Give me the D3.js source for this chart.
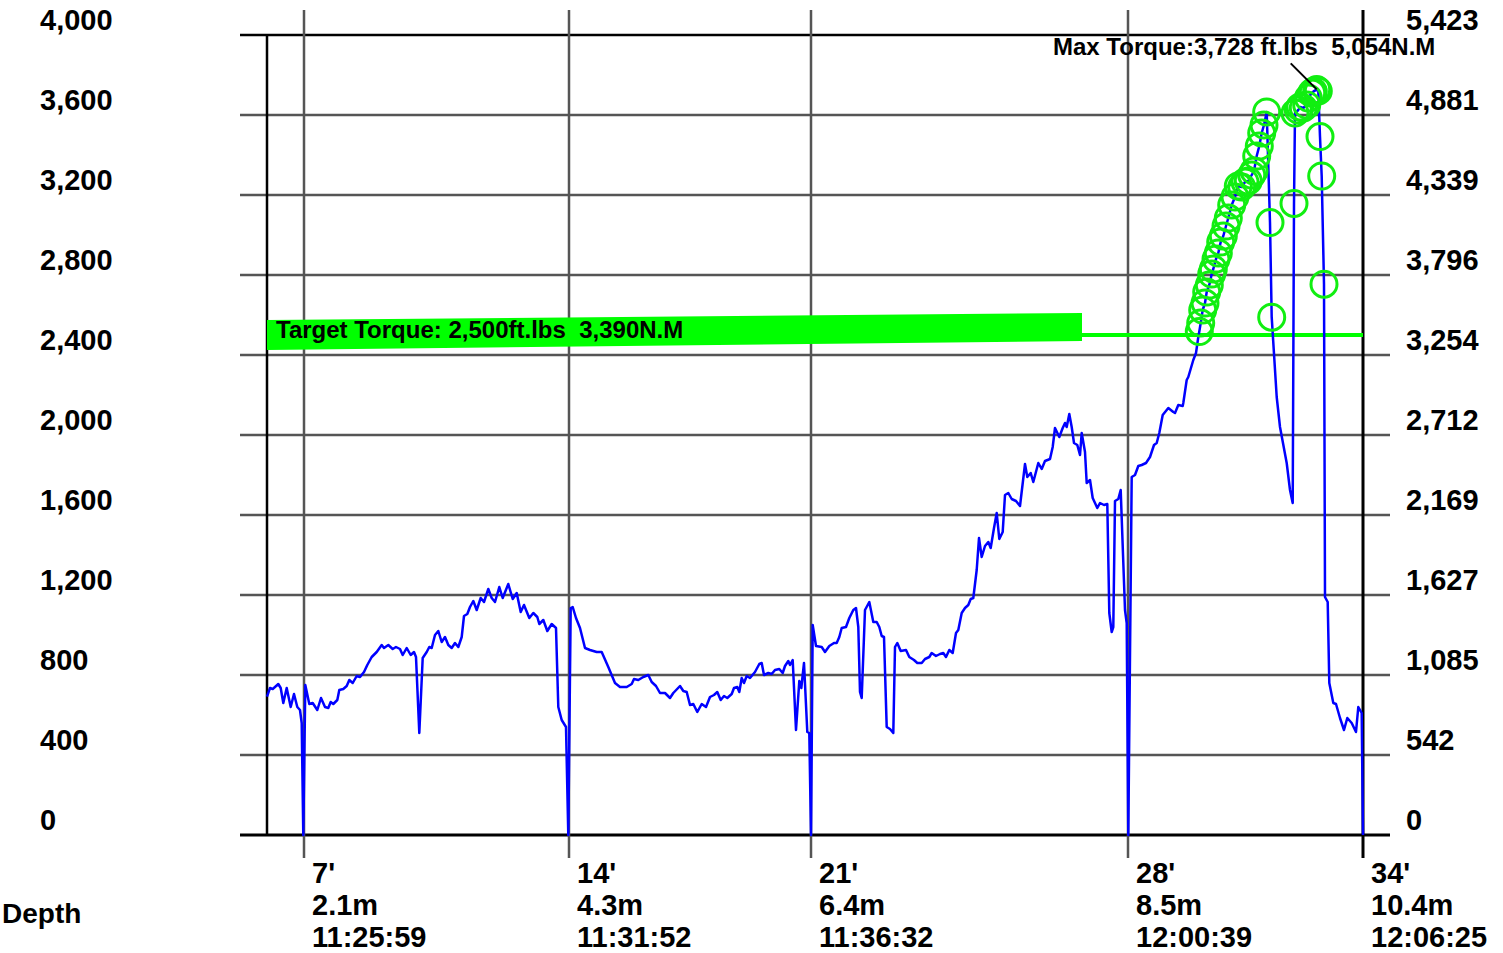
<!DOCTYPE html>
<html>
<head>
<meta charset="utf-8">
<script src="https://cdn.jsdelivr.net/npm/d3@7"></script>
<style>
  body { margin: 0; background: #fff; }
  .chart text { font-family: "Liberation Sans", Arial, sans-serif; font-weight: bold; fill: #000; white-space: pre; }
</style>
</head>
<body>
<div class="chart"></div>
<script>
// Torque vs depth log, one reading per sample
// [sample position, torque in ft.lbs]
var torqueReadings = [
  [0, 692], [3, 735], [5.7, 730], [8, 740], [11.3, 755], [13.7, 735], [16.3, 660], [19.7, 735],
  [23.7, 640], [27, 705], [30.3, 640], [33, 625], [34.7, 560], [36.3, 0], [38.3, 750], [42.3, 655],
  [45.7, 660], [50.3, 625], [54, 685], [58, 640], [61.3, 635], [63.7, 665], [66.3, 655], [70.3, 675],
  [72.3, 725], [76.3, 730], [79.7, 745], [82.3, 775], [85.7, 760], [89.7, 795], [93, 790], [97, 815],
  [100.3, 850], [104.7, 890], [109.7, 915], [114.7, 950], [117, 935], [121.3, 950], [125.7, 930],
  [129, 940], [133, 930], [135.7, 900], [139.7, 935], [143.7, 900], [147, 915], [149, 890],
  [152.3, 510], [155.7, 885], [159.7, 915], [162.3, 940], [164.7, 935], [168, 1000], [171.3, 1020],
  [174.7, 965], [178, 990], [181.3, 950], [184.7, 935], [188, 960], [191.3, 940], [194.7, 990],
  [197, 1095], [200.3, 1105], [203, 1140], [206.3, 1170], [209.7, 1125], [213.7, 1185], [217, 1165],
  [221.3, 1230], [224.7, 1185], [228, 1165], [232.3, 1240], [235.7, 1185], [241.3, 1255],
  [245.7, 1180], [249.7, 1210], [253.7, 1115], [257, 1150], [262.3, 1085], [266.3, 1110],
  [270.3, 1090], [272.3, 1055], [276.3, 1075], [280.3, 1020], [284.7, 1055], [289, 1035],
  [291.3, 640], [294.7, 575], [299, 540], [301.3, 0], [303.7, 1135], [305.7, 1140], [309, 1085],
  [313, 1035], [318, 935], [323, 925], [329.7, 915], [334.7, 915], [341.3, 840], [348, 760],
  [353, 740], [359.7, 740], [364.7, 755], [367, 780], [371.3, 775], [376.3, 790], [381.3, 800],
  [384.7, 765], [389, 745], [393, 710], [398, 710], [403, 685], [406.3, 710], [413, 745],
  [416.3, 720], [419.7, 715], [423, 650], [426.3, 655], [430.3, 615], [434.7, 655], [439, 640],
  [443, 690], [447, 700], [450.3, 715], [453.7, 675], [457, 695], [460.3, 685], [464.7, 705],
  [467, 735], [470.3, 740], [472.3, 715], [474.7, 785], [477, 760], [479.7, 795], [483, 785],
  [488, 815], [492.3, 855], [494.7, 860], [497, 800], [501.3, 810], [504.7, 805], [508, 825],
  [512.3, 830], [515.7, 810], [518, 845], [521.3, 870], [523, 850], [525.7, 875], [529, 525],
  [532.3, 770], [534.3, 735], [537, 860], [540.3, 515], [542.3, 510], [544, 0], [545.7, 1050],
  [549, 945], [554.7, 940], [558, 915], [562.3, 945], [567, 960], [569.7, 960], [572.3, 990],
  [574.7, 1035], [579, 1040], [582.3, 1085], [586.3, 1125], [589, 1135], [591.3, 1040],
  [593, 715], [594.7, 685], [598, 1125], [602.3, 1165], [606.3, 1065], [609.7, 1065],
  [612.3, 1040], [614.7, 995], [617, 990], [619.7, 540], [623, 530], [626.3, 510], [628, 940],
  [630.3, 960], [633.7, 920], [639, 925], [642.3, 890], [647, 875], [650.3, 860], [654.7, 860],
  [658, 880], [662.3, 890], [664.7, 910], [669, 895], [673, 905], [676.3, 910], [679, 890],
  [682.3, 925], [685.7, 910], [689, 1010], [691.3, 1025], [694.7, 1110], [698, 1135],
  [701.3, 1150], [703.7, 1180], [706.3, 1185], [709.7, 1325], [712, 1485], [714.7, 1390],
  [718, 1445], [721.3, 1465], [723.7, 1435], [727, 1535], [729.7, 1610], [732.3, 1480],
  [735.7, 1515], [738, 1700], [741.3, 1710], [744.7, 1680], [749, 1670], [753, 1645],
  [758, 1855], [760.3, 1790], [763.7, 1810], [766.3, 1765], [771.3, 1860], [774.7, 1830],
  [778, 1870], [783, 1880], [785.7, 1940], [788, 2035], [792.3, 1990], [795.7, 2035],
  [798, 2060], [799.7, 2040], [802.3, 2105], [804.7, 2040], [807, 1960], [810.3, 1950],
  [813, 1900], [814.7, 2010], [818, 1915], [819.7, 1760], [823, 1775], [825.7, 1685],
  [830.3, 1635], [833, 1660], [837, 1650], [840.3, 1655], [842.3, 1110], [844.7, 1015],
  [846.3, 1040], [848, 1670], [851.3, 1680], [853.7, 1725], [858, 1125], [859.7, 1060],
  [861.3, 0], [864.7, 1790], [868, 1800], [871.3, 1845], [874.7, 1850], [879, 1860], [883, 1890],
  [887, 1950], [889.7, 1960], [892.3, 2010], [895.7, 2100], [901.3, 2135], [906.3, 2115],
  [908, 2110], [911.3, 2150], [915.7, 2145], [916.3, 2160], [919.7, 2275], [921.3, 2290],
  [926.3, 2375], [929, 2410], [931.3, 2490],
  [932.3, 2517], [933.7, 2560], [935.7, 2625], [938, 2660], [939.7, 2715], [942.3, 2750],
  [944.7, 2805], [946.3, 2830], [949, 2880], [951.3, 2910], [953.7, 2965], [956.3, 2995],
  [959, 3045], [961.3, 3085], [964.7, 3150], [968, 3190], [971.3, 3245], [974.7, 3240],
  [978, 3265], [981.3, 3270], [984.7, 3300], [987, 3320], [989.7, 3395], [992.3, 3445],
  [994.7, 3510], [997, 3550], [999.7, 3615],
  [1003, 3062], [1004.7, 2589], [1009.7, 2190], [1013, 2040], [1019.7, 1860], [1023, 1725],
  [1025.7, 1660], [1027, 3158], [1028, 3610], [1031.3, 3625], [1033, 3640], [1036.3, 3635],
  [1039.7, 3650], [1041.3, 3685], [1044.7, 3710], [1046.3, 3717], [1049.7, 3728], [1051.3, 3720],
  [1053, 3492], [1054.7, 3295], [1057, 2754], [1058, 1190], [1060.7, 1165], [1062.3, 760],
  [1066.3, 660], [1069, 655], [1073, 585], [1077, 525], [1080.3, 585], [1084.7, 560],
  [1089, 515], [1091.3, 640], [1094.7, 610], [1096, 0]
];

// Left axis (ft.lbs) and right axis (N.M)
var torqueTicks = [0, 400, 800, 1200, 1600, 2000, 2400, 2800, 3200, 3600, 4000];
var newtonLabels = ["0", "542", "1,085", "1,627", "2,169", "2,712", "3,254", "3,796", "4,339", "4,881", "5,423"];

// Depth ticks along the bottom
var depthTickPos = [37, 302, 544, 861, 1096];
var depthFeet = ["7'", "14'", "21'", "28'", "34'"];
var depthMetres = ["2.1m", "4.3m", "6.4m", "8.5m", "10.4m"];
var depthTimes = ["11:25:59", "11:31:52", "11:36:32", "12:00:39", "12:06:25"];

var targetTorque = 2500;
var targetLabel = "Target Torque: 2,500ft.lbs  3,390N.M";
var maxLabel = "Max Torque:3,728 ft.lbs  5,054N.M";

// SVG area
var svgWidth = 1503;
var svgHeight = 953;

var svg = d3.select(".chart")
            .append("svg")
            .attr("width", svgWidth)
            .attr("height", svgHeight);

var xScale = d3.scaleLinear()
               .domain([0, 1096])
               .range([267, 1363]);

var yScale = d3.scaleLinear()
               .domain([0, 4000])
               .range([835, 35]);

var gridColor = "#555";
var green = "#00ff00";

// Horizontal grid lines
svg.append("g")
   .selectAll("line")
   .data(torqueTicks)
   .enter()
   .append("line")
   .attr("x1", 240)
   .attr("x2", 1390)
   .attr("y1", d => yScale(d))
   .attr("y2", d => yScale(d))
   .attr("stroke", d => (d === 0 || d === 4000) ? "#000" : gridColor)
   .attr("stroke-width", d => d === 0 ? 3 : 2.5);

// Vertical grid lines at depth marks
svg.append("g")
   .selectAll("line")
   .data(depthTickPos)
   .enter()
   .append("line")
   .attr("x1", d => xScale(d))
   .attr("x2", d => xScale(d))
   .attr("y1", 10)
   .attr("y2", 858)
   .attr("stroke", (d, i) => i === depthTickPos.length - 1 ? "#000" : gridColor)
   .attr("stroke-width", (d, i) => i === depthTickPos.length - 1 ? 3 : 2.5);

// Left border of the plot
svg.append("line")
   .attr("x1", xScale(0)).attr("x2", xScale(0))
   .attr("y1", yScale(4000)).attr("y2", yScale(0))
   .attr("stroke", "#000")
   .attr("stroke-width", 2.5);

// Target torque line and its label band
svg.append("line")
   .attr("x1", xScale(0))
   .attr("x2", xScale(1096))
   .attr("y1", yScale(targetTorque))
   .attr("y2", yScale(targetTorque))
   .attr("stroke", green)
   .attr("stroke-width", 4);

var bandEnd = 815;
svg.append("polygon")
   .attr("points", [
      [xScale(0), yScale(targetTorque + 75)],
      [xScale(bandEnd), yScale(targetTorque + 110)],
      [xScale(bandEnd), yScale(targetTorque - 30)],
      [xScale(0), yScale(targetTorque - 75)]
   ].map(p => p.join(",")).join(" "))
   .attr("fill", green);

svg.append("text")
   .attr("x", 276)
   .attr("y", yScale(targetTorque) + 3)
   .style("font-size", "24px")
   .text(targetLabel);

// Torque trace
var line = d3.line()
             .x(d => xScale(d[0]))
             .y(d => yScale(d[1]));

svg.append("path")
   .datum(torqueReadings)
   .attr("d", line)
   .attr("fill", "none")
   .attr("stroke", "#0000ff")
   .attr("stroke-width", 2.5)
   .attr("stroke-linejoin", "round");

// Mark every reading above target
svg.append("g")
   .selectAll("circle")
   .data(torqueReadings.filter(d => d[1] > targetTorque))
   .enter()
   .append("circle")
   .attr("cx", d => xScale(d[0]))
   .attr("cy", d => yScale(d[1]))
   .attr("r", 13)
   .attr("fill", "none")
   .attr("stroke", "#11ee11")
   .attr("stroke-width", 3);

// Max torque annotation
var maxReading = torqueReadings.reduce((a, b) => b[1] > a[1] ? b : a);
svg.append("line")
   .attr("x1", xScale(maxReading[0]))
   .attr("y1", yScale(maxReading[1]))
   .attr("x2", xScale(maxReading[0]) - 26)
   .attr("y2", yScale(maxReading[1]) - 26)
   .attr("stroke", "#000")
   .attr("stroke-width", 2);

svg.append("text")
   .attr("x", 1053)
   .attr("y", 55)
   .style("font-size", "24px")
   .text(maxLabel);

// Axis labels
svg.append("g")
   .selectAll("text")
   .data(torqueTicks)
   .enter()
   .append("text")
   .attr("x", 40)
   .attr("y", d => yScale(d) - 5)
   .style("font-size", "29px")
   .text(d => d3.format(",")(d));

svg.append("g")
   .selectAll("text")
   .data(torqueTicks)
   .enter()
   .append("text")
   .attr("x", 1406)
   .attr("y", d => yScale(d) - 5)
   .style("font-size", "29px")
   .text((d, i) => newtonLabels[i]);

var depthGroup = svg.append("g")
                    .selectAll("text")
                    .data(depthTickPos)
                    .enter()
                    .append("text")
                    .attr("x", d => xScale(d) + 8)
                    .attr("y", 883)
                    .style("font-size", "29px");

depthGroup.append("tspan").text((d, i) => depthFeet[i]);
depthGroup.append("tspan").attr("x", d => xScale(d) + 8).attr("dy", 32).text((d, i) => depthMetres[i]);
depthGroup.append("tspan").attr("x", d => xScale(d) + 8).attr("dy", 32).text((d, i) => depthTimes[i]);

svg.append("text")
   .attr("x", 2)
   .attr("y", 923)
   .style("font-size", "28px")
   .text("Depth");
</script>
</body>
</html>
